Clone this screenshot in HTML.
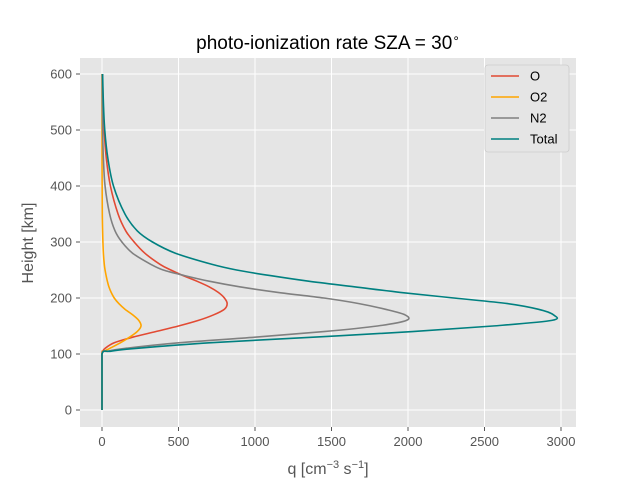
<!DOCTYPE html>
<html><head><meta charset="utf-8"><style>
body{margin:0;background:#fff}
svg{font-family:"Liberation Sans","DejaVu Sans",sans-serif}
</style></head><body>
<svg id="chart" width="640" height="480" viewBox="0 0 640 480">
<rect x="0" y="0" width="640" height="480" fill="#fff"/>
<rect x="80" y="58" width="496" height="369" fill="#E5E5E5"/>
<g id="grid"></g>
<g id="ticks"></g>
<g id="series"></g>
<text x="328" y="49" text-anchor="middle" font-size="19" fill="#000">photo-ionization rate SZA = 30<tspan font-size="12" dy="-7">∘</tspan></text>
<text x="328" y="474" text-anchor="middle" font-size="16" fill="#555">q [cm<tspan font-size="11" dy="-6">−3</tspan><tspan dy="6"> s</tspan><tspan font-size="11" dy="-6">−1</tspan><tspan dy="6">]</tspan></text>
<text x="33" y="243" text-anchor="middle" font-size="16" fill="#555" transform="rotate(-90 33 243)">Height [km]</text>
<g id="legend">
<rect x="485" y="65" width="84" height="87" rx="3" fill="#E5E5E5" stroke="#ccc" stroke-width="0.8"/>
</g>
</svg>
<script>
const heights=[0,50,100,105,110,120,130,140,150,160,170,180,190,200,210,220,230,240,250,260,280,300,320,350,400,450,500,550,600];
const qO=[0,0,0,5,20,80,200,350,500,630,730,800,818,800,760,700,620,530,450,380,280,210,155,105,55,28,14,7,3];
const qO2=[0,0,0,15,50,120,180,230,255,240,200,150,110,80,60,45,35,27,20,15,9,6,4,2,1,0,0,0,0];
const qN2=[0,0,0,40,150,500,1000,1450,1800,1990,1980,1850,1680,1450,1150,900,700,540,400,320,200,130,85,50,20,9,4,2,1];
const qTotal=[0,0,0,60,220,700,1380,2030,2555,2940,2950,2850,2650,2300,1950,1650,1350,1100,880,720,480,330,230,150,75,38,18,9,4];
const seriesNames=["O","O2","N2","Total"];
const xTicks=[0,500,1000,1500,2000,2500,3000];
const yTicks=[0,100,200,300,400,500,600];
const colors=["#E24A33","#FFA500","#808080","#008080"];
const ns="http://www.w3.org/2000/svg";
const X=v=>102+v*0.153;
const Y=h=>410-h*0.56;
function mk(t,a,p){const e=document.createElementNS(ns,t);for(const k in a)e.setAttribute(k,a[k]);p.appendChild(e);return e;}
const grid=document.getElementById('grid'),ticks=document.getElementById('ticks');
xTicks.forEach(v=>{
 const l=mk('line',{x1:X(v),x2:X(v),y1:58,y2:427,stroke:'#fff','stroke-width':1},grid);
 
 
 const t=mk('line',{x1:X(v),x2:X(v),y1:427,y2:431,stroke:'#555'},ticks);
 
 
 const tx=mk('text',{x:X(v),y:446,'text-anchor':'middle','font-size':13,fill:'#555'},ticks);
 tx.textContent=v;
 
 
});
yTicks.forEach(v=>{
 const l=mk('line',{x1:80,x2:576,y1:Y(v),y2:Y(v),stroke:'#fff','stroke-width':1},grid);
 
 
 const t=mk('line',{x1:76,x2:80,y1:Y(v),y2:Y(v),stroke:'#555'},ticks);
 
 
 const tx=mk('text',{x:72,y:Y(v)+4.5,'text-anchor':'end','font-size':13,fill:'#555'},ticks);
 tx.textContent=v;
 
 
});
const X0=X(0);
function smooth(pts){
 let d='M'+pts[0][0]+','+pts[0][1];
 for(let i=0;i<pts.length-1;i++){
  const p0=pts[Math.max(i-1,0)],p1=pts[i],p2=pts[i+1],p3=pts[Math.min(i+2,pts.length-1)];
  const c1=[Math.max(X0,p1[0]+(p2[0]-p0[0])/6),p1[1]+(p2[1]-p0[1])/6];
  const c2=[Math.max(X0,p2[0]-(p3[0]-p1[0])/6),p2[1]-(p3[1]-p1[1])/6];
  d+=' C'+c1+' '+c2+' '+p2;
 }
 return d;
}
const sg=document.getElementById('series');
[qO,qO2,qN2,qTotal].forEach((arr,i)=>{
 const pts=heights.map((h,j)=>[X(arr[j]),Y(h)]);
 const p=mk('path',{d:smooth(pts),fill:'none',stroke:colors[i],'stroke-width':1.6},sg);
 
 
});
const lg=document.getElementById('legend');
seriesNames.forEach((n,i)=>{
 const y=76+i*21;
 const l=mk('line',{x1:491,x2:519,y1:y,y2:y,stroke:colors[i],'stroke-width':1.6},lg);
 
 
 const t=mk('text',{x:530,y:y+4.5,'font-size':13,fill:'#000'},lg);
 t.textContent=n;
 
 
});
</script>
</body></html>
